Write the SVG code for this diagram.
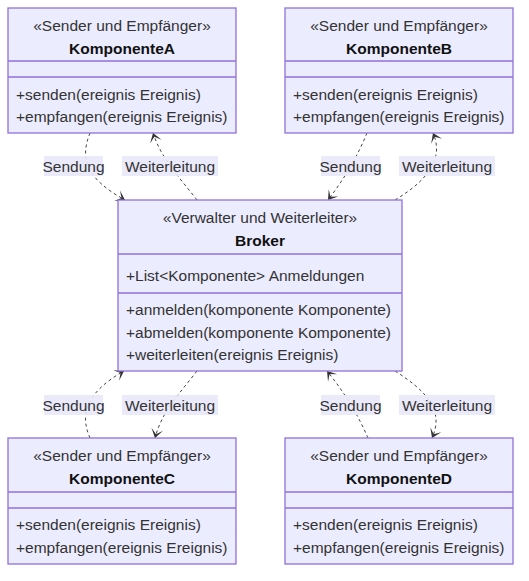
<svg xmlns="http://www.w3.org/2000/svg" width="529" height="581" viewBox="0 0 529 581">
<style>
.box{fill:#ECECFF;stroke:#9370DB;stroke-width:1.3}
.div{stroke:#9370DB;stroke-width:1.3}
text{font-family:"Liberation Sans",Arial,sans-serif;font-size:15.5px;fill:#333}
.c{text-anchor:middle}
.b{font-weight:bold;fill:#111}
.edge{fill:none;stroke:#444;stroke-width:1;stroke-dasharray:3 3}
.lbg{fill:#E8E8FA;opacity:0.9}
</style>
<defs>
<marker id="arr" markerUnits="userSpaceOnUse" viewBox="0 0 20 14" refX="18" refY="7" markerWidth="20" markerHeight="14" orient="auto">
<path d="M18,7 L9,13 L14,7 L9,1 Z" fill="#333"/>
</marker>
</defs>
<rect width="529" height="581" fill="#fff"/>
<g id="connectors">
<path class="edge" d="M90,133 C80,158 85,178 125,200" marker-end="url(#arr)"/>
<path class="edge" d="M197,200 C180,178 162,160 153,133" marker-end="url(#arr)"/>
<path class="edge" d="M367,133 C358,155 345,178 328,200" marker-end="url(#arr)"/>
<path class="edge" d="M395,200 C425,182 445,160 433,133" marker-end="url(#arr)"/>
<path class="edge" d="M90,438 C80,415 85,393 124,371" marker-end="url(#arr)"/>
<path class="edge" d="M197,371 C180,393 162,411 155,438" marker-end="url(#arr)"/>
<path class="edge" d="M368,438 C358,415 345,393 327,371" marker-end="url(#arr)"/>
<path class="edge" d="M395,371 C425,390 445,410 432,438" marker-end="url(#arr)"/>
<g id="edge-labels">
<rect class="lbg" x="44" y="156" width="59" height="20"/><text class="c" x="73.5" y="171.5">Sendung</text>
<rect class="lbg" x="122" y="156" width="96" height="20"/><text class="c" x="170" y="171.5">Weiterleitung</text>
<rect class="lbg" x="321" y="156" width="59" height="20"/><text class="c" x="350.5" y="171.5">Sendung</text>
<rect class="lbg" x="399" y="156" width="96" height="20"/><text class="c" x="447" y="171.5">Weiterleitung</text>
<rect class="lbg" x="44" y="395" width="59" height="20"/><text class="c" x="73.5" y="410.5">Sendung</text>
<rect class="lbg" x="122" y="395" width="96" height="20"/><text class="c" x="170" y="410.5">Weiterleitung</text>
<rect class="lbg" x="321" y="395" width="59" height="20"/><text class="c" x="350.5" y="410.5">Sendung</text>
<rect class="lbg" x="399" y="395" width="96" height="20"/><text class="c" x="447" y="410.5">Weiterleitung</text>
</g>
</g>
<g id="KomponenteA">
<rect class="box" x="8" y="8" width="228" height="125"/>
<line class="div" x1="8" y1="61" x2="236" y2="61"/>
<line class="div" x1="8" y1="77" x2="236" y2="77"/>
<text class="c" x="122" y="30.5">«Sender und Empfänger»</text>
<text class="c b" x="122" y="53.5">KomponenteA</text>
<text x="16" y="99.5">+senden(ereignis Ereignis)</text>
<text x="16" y="122">+empfangen(ereignis Ereignis)</text>
</g>
<g id="KomponenteB">
<rect class="box" x="285" y="8" width="228" height="125"/>
<line class="div" x1="285" y1="61" x2="513" y2="61"/>
<line class="div" x1="285" y1="77" x2="513" y2="77"/>
<text class="c" x="399" y="30.5">«Sender und Empfänger»</text>
<text class="c b" x="399" y="53.5">KomponenteB</text>
<text x="293" y="99.5">+senden(ereignis Ereignis)</text>
<text x="293" y="122">+empfangen(ereignis Ereignis)</text>
</g>
<g id="Broker">
<rect class="box" x="118" y="200" width="284" height="171"/>
<line class="div" x1="118" y1="254" x2="402" y2="254"/>
<line class="div" x1="118" y1="293" x2="402" y2="293"/>
<text class="c" x="260" y="222.5">«Verwalter und Weiterleiter»</text>
<text class="c b" x="260" y="245.5">Broker</text>
<text x="126" y="280.5">+List&lt;Komponente&gt; Anmeldungen</text>
<text x="126" y="315">+anmelden(komponente Komponente)</text>
<text x="126" y="337.5">+abmelden(komponente Komponente)</text>
<text x="126" y="360">+weiterleiten(ereignis Ereignis)</text>
</g>
<g id="KomponenteC">
<rect class="box" x="8" y="438" width="228" height="126"/>
<line class="div" x1="8" y1="492" x2="236" y2="492"/>
<line class="div" x1="8" y1="508" x2="236" y2="508"/>
<text class="c" x="122" y="461">«Sender und Empfänger»</text>
<text class="c b" x="122" y="484">KomponenteC</text>
<text x="16" y="530">+senden(ereignis Ereignis)</text>
<text x="16" y="552.5">+empfangen(ereignis Ereignis)</text>
</g>
<g id="KomponenteD">
<rect class="box" x="285" y="438" width="228" height="126"/>
<line class="div" x1="285" y1="492" x2="513" y2="492"/>
<line class="div" x1="285" y1="508" x2="513" y2="508"/>
<text class="c" x="399" y="461">«Sender und Empfänger»</text>
<text class="c b" x="399" y="484">KomponenteD</text>
<text x="293" y="530">+senden(ereignis Ereignis)</text>
<text x="293" y="552.5">+empfangen(ereignis Ereignis)</text>
</g>
</svg>
